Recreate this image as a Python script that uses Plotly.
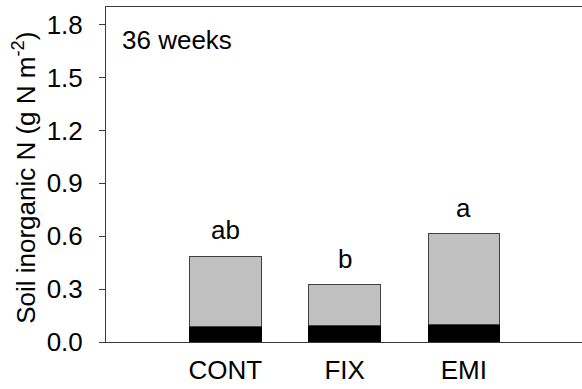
import plotly.graph_objects as go

categories = ["CONT", "FIX", "EMI"]
black_part = [0.089, 0.095, 0.100]
totals = [0.486, 0.326, 0.614]
grey_part = [t - b for t, b in zip(totals, black_part)]
letters = ["ab", "b", "a"]
y_ticks = [0.0, 0.3, 0.6, 0.9, 1.2, 1.5, 1.8]

FONT = "Liberation Sans, Arial, sans-serif"
LINE = "#3a3a3a"

fig = go.Figure()
fig.add_trace(go.Bar(x=categories, y=black_part, marker=dict(color="#000000", line=dict(color="#000000", width=1)),
                     width=0.6, showlegend=False))
fig.add_trace(go.Bar(x=categories, y=grey_part, marker=dict(color="#c0c0c0", line=dict(color="#404040", width=1)),
                     width=0.6, showlegend=False))

for c, t, l in zip(categories, totals, letters):
    fig.add_annotation(x=c, y=t, text=l, showarrow=False, yanchor="bottom", yshift=9,
                       font=dict(family=FONT, size=26, color="#000"))

fig.add_annotation(x=0, xref="paper", y=0.90, yref="paper", text="36 weeks", showarrow=False,
                   xanchor="left", yanchor="middle", xshift=14, font=dict(family=FONT, size=26, color="#000"))

fig.add_annotation(x=0, xref="paper", y=0.49, yref="paper", text="Soil inorganic N (g N m<sup>-2</sup>)",
                   showarrow=False, textangle=-90, xanchor="center", yanchor="middle", xshift=-81,
                   font=dict(family=FONT, size=26, color="#000"))

fig.update_layout(
    width=582, height=389, barmode="stack",
    margin=dict(l=106, r=0, t=7, b=47),
    paper_bgcolor="white", plot_bgcolor="white",
    font=dict(family=FONT, size=26, color="#000"),
    xaxis=dict(range=[-1, 2.99], showline=True, linecolor=LINE, linewidth=1, mirror=True,
               ticks="", showgrid=False, zeroline=False, ticklabelstandoff=5,
               tickfont=dict(family=FONT, size=26, color="#000")),
    yaxis=dict(range=[0, 1.9], showline=True, linecolor=LINE, linewidth=1,
               ticks="outside", ticklen=6, tickcolor=LINE, tickvals=y_ticks,
               ticktext=[f"{v:.1f}" for v in y_ticks], showgrid=False, zeroline=False,
               ticklabelstandoff=11,
               tickfont=dict(family=FONT, size=26, color="#000")),
)

fig.write_html("out.html")
